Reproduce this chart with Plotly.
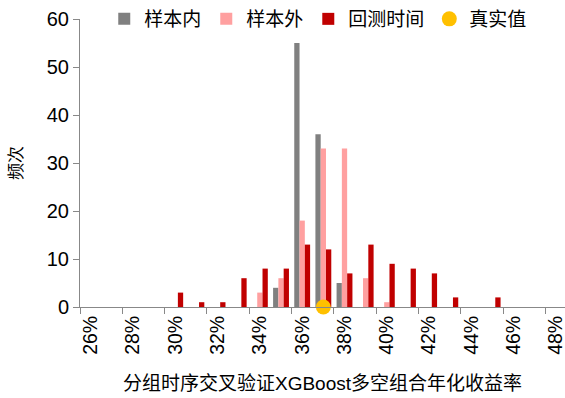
import plotly.graph_objects as go

categories = [f"{v}%" for v in range(26, 49)]
in_sample = [0, 0, 0, 0, 0, 0, 0, 0, 0, 4, 55, 36, 5, 0, 0, 0, 0, 0, 0, 0, 0, 0, 0]
out_sample = [0, 0, 0, 0, 0, 0, 0, 0, 3, 6, 18, 33, 33, 6, 1, 0, 0, 0, 0, 0, 0, 0, 0]
backtest = [0, 0, 0, 0, 3, 1, 1, 6, 8, 8, 13, 12, 7, 13, 9, 8, 7, 2, 0, 2, 0, 0, 0]
true_value_cat = "37%"
true_value_y = 0
y_ticks = [0, 10, 20, 30, 40, 50, 60]

x_idx = list(range(len(categories)))
tick_idx = x_idx[::2]
tick_txt = categories[::2]

FONT = "Liberation Sans, Arial, Noto Sans CJK SC"
AXC = "#888888"

fig = go.Figure()
fig.add_trace(go.Bar(x=x_idx, y=in_sample, name="样本内", marker_color="#808080", marker_line_width=0))
fig.add_trace(go.Bar(x=x_idx, y=out_sample, name="样本外", marker_color="#FFA0A0", marker_line_width=0))
fig.add_trace(go.Bar(x=x_idx, y=backtest, name="回测时间", marker_color="#C00000", marker_line_width=0))
fig.add_trace(go.Scatter(x=[categories.index(true_value_cat)], y=[true_value_y], name="真实值",
                         mode="markers", marker=dict(color="#FFC000", size=15), cliponaxis=False))

fig.update_layout(
    width=565, height=398,
    margin=dict(l=80, r=0, t=15, b=91),
    paper_bgcolor="white", plot_bgcolor="white",
    barmode="group", bargap=0.25, bargroupgap=0,
    font=dict(family=FONT, size=18, color="black"),
    showlegend=True,
    legend=dict(orientation="h", x=0.05, y=1.0, xanchor="left", yanchor="middle",
                font=dict(family="Noto Sans CJK SC", size=19), bgcolor="rgba(0,0,0,0)",
                itemwidth=30, tracegroupgap=0),
    xaxis=dict(range=[-0.5, 22.42], tickmode="array", tickvals=tick_idx, ticktext=tick_txt,
               tickangle=-90, ticks="", showline=True, linecolor=AXC, linewidth=1,
               showgrid=False, zeroline=False, tickfont=dict(size=19.5), automargin=False,
               ticklabeloverflow="allow",
               minor=dict(tickmode="linear", tick0=-0.5, dtick=2, ticks="outside", ticklen=6,
                          tickcolor=AXC, showgrid=False),
               title=dict(text="分组时序交叉验证XGBoost多空组合年化收益率", font=dict(size=19), standoff=22)),
    yaxis=dict(range=[0, 60], tickmode="array", tickvals=y_ticks, ticks="outside", ticklen=6,
               tickcolor=AXC, showline=True, linecolor=AXC, linewidth=1, showgrid=False,
               zeroline=False, tickfont=dict(size=20), automargin=False,
               title=dict(text="频次", font=dict(family="Noto Sans CJK SC", size=17), standoff=19)),
)

fig.write_html("out.html", config={"displayModeBar": False},
               post_script="document.body.style.margin='0';document.body.style.overflow='hidden';")
